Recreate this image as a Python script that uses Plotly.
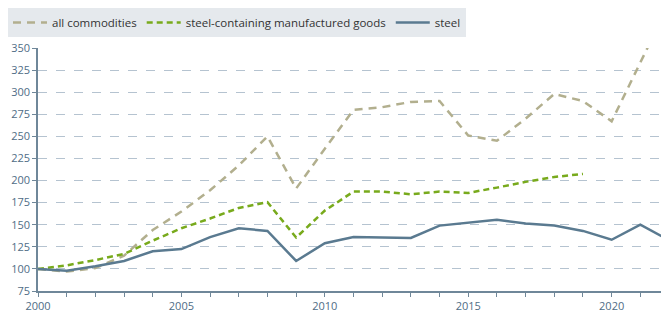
import plotly.graph_objects as go

years = list(range(2000, 2023))
all_commodities = [100, 97, 101, 115, 144, 165, 189, 217, 250, 191, 236, 280, 283, 289, 290,
                   251, 245, 270, 298, 290, 267, 333, 400]
steel_goods_years = list(range(2000, 2020))
steel_goods = [100, 104, 110, 117, 132, 146, 157, 169, 175.5, 135.5, 166, 187.5, 187.5, 184.5,
               187.5, 186, 192, 198.5, 204, 207.5]
steel = [100, 98, 103, 109, 120, 122.5, 136, 146, 143, 109, 129, 136, 135.5, 135, 149, 152.5,
         155.5, 151.5, 149, 143, 133, 150, 132.5]

y_ticks = list(range(75, 351, 25))
x_tick_labels = [2000, 2005, 2010, 2015, 2020]

axis_col = "#6f8799"
grid_col = "#b5c3d0"
text_col = "#4f6d86"

fig = go.Figure()
fig.add_trace(go.Scatter(x=years, y=all_commodities, mode="lines", name="all commodities",
                         line=dict(color="#b2af8e", width=2.5, dash="8px,6px")))
fig.add_trace(go.Scatter(x=steel_goods_years, y=steel_goods, mode="lines",
                         name="steel-containing manufactured goods",
                         line=dict(color="#78aa1c", width=2.5, dash="6px,4px")))
fig.add_trace(go.Scatter(x=years, y=steel, mode="lines", name="steel",
                         line=dict(color="#5a7a90", width=2.5)))

fig.update_layout(
    width=661, height=302,
    margin=dict(l=30, r=0, t=40, b=19, autoexpand=False),
    plot_bgcolor="white", paper_bgcolor="white",
    font=dict(family="Open Sans", size=11, color=text_col),
    showlegend=True,
    legend=dict(orientation="h", xref="container", yref="container",
                x=0, y=1, xanchor="left", yanchor="top",
                bgcolor="#e5e9ed", font=dict(size=11.5, color="#333333"),
                itemwidth=34, tracegroupgap=0),
    xaxis=dict(range=[2000, 2022], tickmode="array", tickvals=x_tick_labels,
               ticktext=[str(v) for v in x_tick_labels], automargin=False,
               showgrid=False, zeroline=False,
               showline=True, linecolor=axis_col, linewidth=1.5,
               ticks="outside", ticklen=4, tickcolor=axis_col,
               minor=dict(dtick=1, tick0=2000, ticks="outside", ticklen=4, tickcolor=axis_col,
                          showgrid=False)),
    yaxis=dict(range=[75, 350], tickmode="array", tickvals=y_ticks, automargin=False,
               showgrid=True, gridcolor=grid_col, griddash="dash", gridwidth=1,
               zeroline=False, showline=True, linecolor=axis_col, linewidth=1.5,
               ticks="outside", ticklen=4, tickcolor=axis_col),
)

fig.write_html("out.html")
